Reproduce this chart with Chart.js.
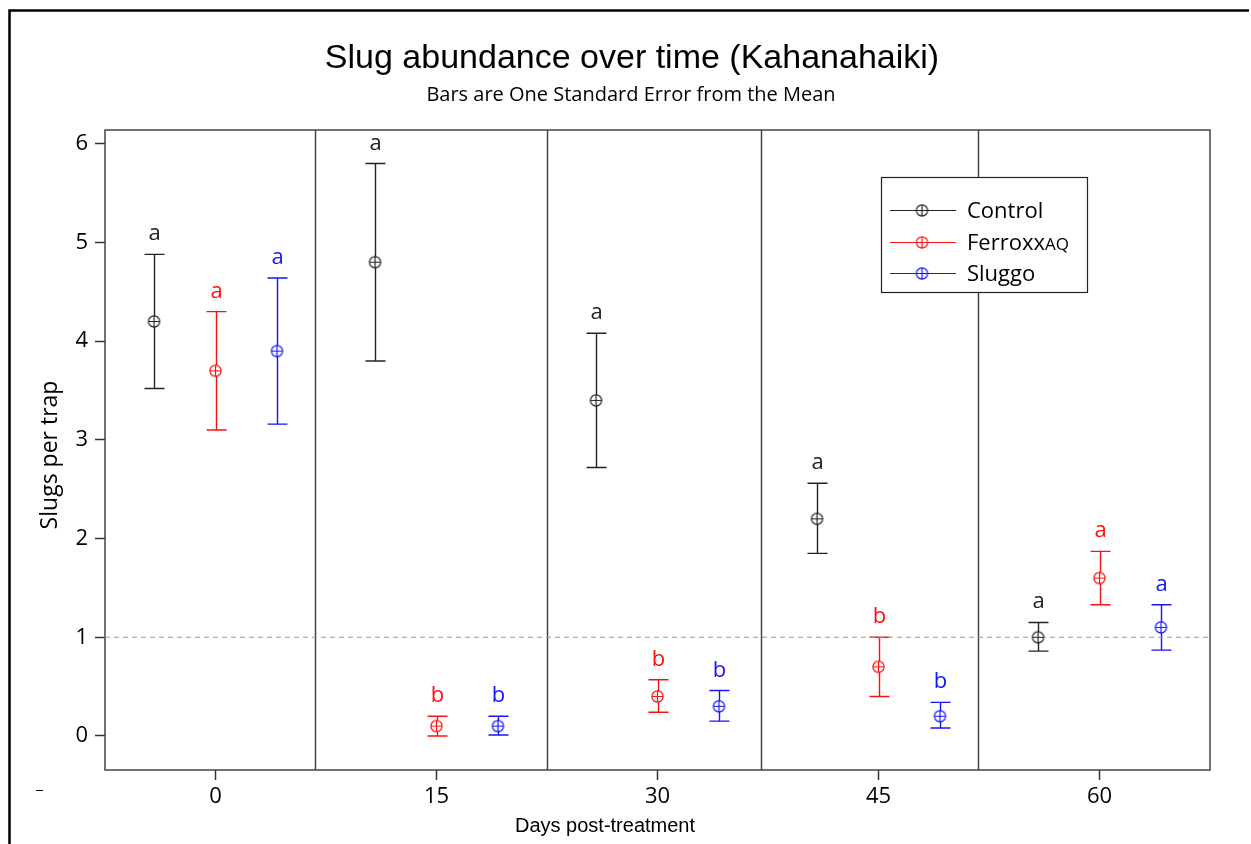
<!DOCTYPE html>
<html>
<head>
<meta charset="utf-8">
<script src="https://cdn.jsdelivr.net/npm/chart.js@4.4.1/dist/chart.umd.min.js"></script>
<style>
  html, body { margin: 0; padding: 0; background: #fff; }
</style>
</head>
<body>
<canvas id="slugChart" width="1251" height="844"></canvas>
<script>
// days post-treatment (x categories)
const days = ['0', '15', '30', '45', '60'];
const yTicks = [0, 1, 2, 3, 4, 5, 6];

// means and +/- one standard error
const controlMean = [4.2, 4.8, 3.4, 2.2, 1.0];
const controlLow  = [3.52, 3.8, 2.72, 1.85, 0.86];
const controlHigh = [4.88, 5.8, 4.08, 2.56, 1.15];
const controlLetters = ['a', 'a', 'a', 'a', 'a'];

const ferroxxMean = [3.7, 0.1, 0.4, 0.7, 1.6];
const ferroxxLow  = [3.1, 0.0, 0.24, 0.4, 1.33];
const ferroxxHigh = [4.3, 0.2, 0.57, 1.0, 1.87];
const ferroxxLetters = ['a', 'b', 'b', 'b', 'a'];

const sluggoMean = [3.9, 0.1, 0.3, 0.2, 1.1];
const sluggoLow  = [3.16, 0.01, 0.15, 0.08, 0.87];
const sluggoHigh = [4.64, 0.2, 0.46, 0.34, 1.33];
const sluggoLetters = ['a', 'b', 'b', 'b', 'a'];

const refLevel = 1;                       // dashed reference line
const dividers = [0.45, 1.5, 2.47, 3.45]; // panel separators (x units)

const titleText = 'Slug abundance over time (Kahanahaiki)';
const subtitleText = 'Bars are One Standard Error from the Mean';
const xTitle = 'Days post-treatment';
const yTitle = 'Slugs per trap';

const tickFont = '"Open Sans", "Noto Sans", sans-serif';
const arialFont = '"Liberation Sans", Arial, sans-serif';

// circle with a plus, used as point style
function crossCircle(color) {
  const c = document.createElement('canvas');
  c.width = 15; c.height = 15;
  const g = c.getContext('2d');
  g.strokeStyle = color;
  g.lineWidth = 1.2;
  g.fillStyle = '#fff';
  g.beginPath(); g.arc(7.5, 7.5, 5.6, 0, Math.PI * 2); g.fill(); g.stroke();
  g.beginPath();
  g.moveTo(1.9, 7.5); g.lineTo(13.1, 7.5);
  g.moveTo(7.5, 1.9); g.lineTo(7.5, 13.1);
  g.stroke();
  return c;
}

function makeSeries(label, color, offset, mean, low, high, letters) {
  return {
    label: label,
    data: mean.map((m, i) => ({ x: i + offset, y: m })),
    low: low,
    high: high,
    letters: letters,
    pointStyle: crossCircle(color),
    borderColor: color,
    backgroundColor: color,
    showLine: false
  };
}

const errorBars = {
  id: 'errorBars',
  beforeDraw(chart) {
    const ctx = chart.ctx;
    ctx.save();
    // outer figure frame (top + left)
    ctx.strokeStyle = '#000';
    ctx.lineWidth = 2.5;
    ctx.beginPath();
    ctx.moveTo(9.5, 844); ctx.lineTo(9.5, 10.5); ctx.lineTo(1249, 10.5);
    ctx.stroke();
    ctx.lineWidth = 1;
    ctx.beginPath(); ctx.moveTo(36, 790.5); ctx.lineTo(43, 790.5); ctx.stroke();

    // titles
    ctx.fillStyle = '#000';
    ctx.textAlign = 'center';
    ctx.textBaseline = 'middle';
    ctx.font = '34px ' + arialFont;
    ctx.fillText(titleText, 632, 59);
    ctx.font = '20px ' + tickFont;
    ctx.fillText(subtitleText, 631, 95);
    ctx.font = '20px ' + arialFont;
    ctx.fillText(xTitle, 605, 826);
    ctx.save();
    ctx.translate(50, 455);
    ctx.rotate(-Math.PI / 2);
    ctx.font = '23px ' + tickFont;
    ctx.fillText(yTitle, 0, 0);
    ctx.restore();
    ctx.restore();
  },
  beforeDatasetsDraw(chart) {
    const { ctx, chartArea: a, scales: { x, y } } = chart;
    ctx.save();
    ctx.strokeStyle = '#444';
    ctx.lineWidth = 1.5;
    dividers.forEach(d => {
      const px = Math.round(x.getPixelForValue(d)) + 0.5;
      ctx.beginPath(); ctx.moveTo(px, a.top); ctx.lineTo(px, a.bottom); ctx.stroke();
    });
    ctx.strokeRect(a.left, a.top, a.right - a.left, a.bottom - a.top);

    chart.data.datasets.forEach((ds, i) => {
      if (!ds.low) return;
      const meta = chart.getDatasetMeta(i);
      ctx.strokeStyle = ds.borderColor;
      ctx.fillStyle = ds.borderColor;
      ctx.lineWidth = 1.4;
      ctx.font = '22px ' + tickFont;
      ctx.textAlign = 'center';
      ctx.textBaseline = 'alphabetic';
      meta.data.forEach((pt, j) => {
        const px = Math.round(pt.x) + 0.5;
        const top = y.getPixelForValue(ds.high[j]);
        const bot = y.getPixelForValue(ds.low[j]);
        ctx.beginPath();
        ctx.moveTo(px, top); ctx.lineTo(px, bot);
        ctx.moveTo(px - 10, top); ctx.lineTo(px + 10, top);
        ctx.moveTo(px - 10, bot); ctx.lineTo(px + 10, bot);
        ctx.stroke();
        ctx.fillText(ds.letters[j], px, top - 14);
      });
    });
    ctx.restore();
  },
  afterDraw(chart) {
    const { ctx, chartArea: a } = chart;
    const left = a.right - 329, top = a.top + 47;
    ctx.save();
    ctx.fillStyle = '#fff';
    ctx.fillRect(left, top, 206, 115);
    ctx.strokeStyle = '#222';
    ctx.lineWidth = 1.2;
    ctx.strokeRect(left + 0.5, top + 0.5, 206, 115);
    const series = chart.data.datasets.filter(ds => ds.low);
    series.forEach((ds, i) => {
      const ry = Math.round(top + 33 + i * 31.5) + 0.5;
      ctx.strokeStyle = ds.borderColor;
      ctx.lineWidth = 1.2;
      ctx.beginPath(); ctx.moveTo(left + 9, ry); ctx.lineTo(left + 75, ry); ctx.stroke();
      ctx.drawImage(ds.pointStyle, left + 41 - 7.5, ry - 7.5);
      ctx.fillStyle = '#000';
      ctx.textBaseline = 'middle';
      ctx.textAlign = 'left';
      ctx.font = '22px ' + tickFont;
      let label = ds.label;
      let tx = left + 86;
      if (label === 'FerroxxAQ') {
        ctx.fillText('Ferroxx', tx, ry + 1);
        tx += ctx.measureText('Ferroxx').width;
        ctx.font = '17px ' + tickFont;
        ctx.fillText('AQ', tx, ry + 3);
      } else {
        ctx.fillText(label, tx, ry + 1);
      }
    });
    ctx.restore();
  }
};

new Chart(document.getElementById('slugChart'), {
  type: 'scatter',
  data: {
    datasets: [
      makeSeries('Control', '#222222', -0.278, controlMean, controlLow, controlHigh, controlLetters),
      makeSeries('FerroxxAQ', '#ff1010', 0, ferroxxMean, ferroxxLow, ferroxxHigh, ferroxxLetters),
      makeSeries('Sluggo', '#1414ff', 0.278, sluggoMean, sluggoLow, sluggoHigh, sluggoLetters),
      {
        type: 'line',
        label: 'reference',
        data: [{ x: -0.5, y: refLevel }, { x: 4.5, y: refLevel }],
        borderColor: '#999',
        borderWidth: 1.2,
        borderDash: [5, 4],
        pointRadius: 0
      }
    ]
  },
  options: {
    responsive: false,
    animation: false,
    devicePixelRatio: 1,
    layout: { padding: { left: 0, right: 41, top: 130, bottom: 0 } },
    plugins: {
      legend: { display: false },
      tooltip: { enabled: false },
      title: { display: false },
      subtitle: { display: false }
    },
    scales: {
      x: {
        type: 'linear',
        min: -0.5,
        max: 4.5,
        afterBuildTicks: s => { s.ticks = days.map((d, i) => ({ value: i })); },
        afterFit: s => { s.height = 74; },
        ticks: {
          callback: v => days[v],
          color: '#000',
          font: { family: tickFont, size: 22 },
          padding: 4,
          maxRotation: 0
        },
        grid: { drawOnChartArea: false, drawTicks: true, tickLength: 10, tickColor: '#333', tickWidth: 1.5 },
        border: { display: false }
      },
      y: {
        min: -0.345,
        max: 6.14,
        afterBuildTicks: s => { s.ticks = yTicks.map(v => ({ value: v })); },
        afterFit: s => { s.width = 105; },
        ticks: {
          color: '#000',
          font: { family: tickFont, size: 22 },
          padding: 7
        },
        grid: { drawOnChartArea: false, drawTicks: true, tickLength: 10, tickColor: '#333', tickWidth: 1.5 },
        border: { display: false }
      }
    }
  },
  plugins: [errorBars]
});
</script>
</body>
</html>
